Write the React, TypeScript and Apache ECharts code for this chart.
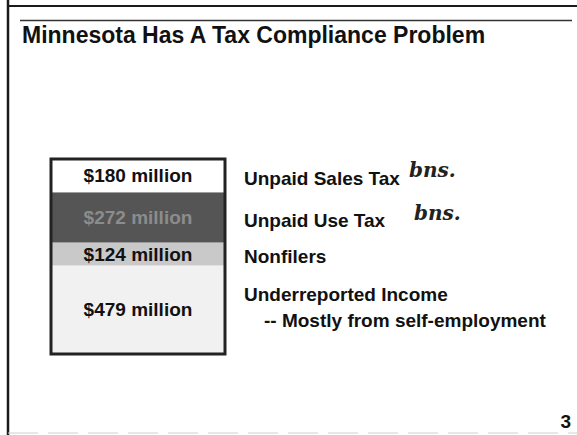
import React, { useEffect, useRef } from "react";
import * as echarts from "echarts";

const title = "Minnesota Has A Tax Compliance Problem";
// stacked from bottom to top
const segmentNames = ["Underreported Income", "Nonfilers", "Unpaid Use Tax", "Unpaid Sales Tax"];
const segmentValues = [479, 124, 272, 180];
const segmentColors = ["#f1f1f1", "#c9c9c9", "#555555", "#ffffff"];
const segmentTextColors = ["#111111", "#111111", "#8c8c8c", "#111111"];
const sideLabels = [
  { text: "Unpaid Sales Tax", x: 244, y: 178 },
  { text: "Unpaid Use Tax", x: 244, y: 220 },
  { text: "Nonfilers", x: 244, y: 256 },
  { text: "Underreported Income", x: 244, y: 294 },
  { text: "-- Mostly from self-employment", x: 264, y: 320 },
];
const notes = [
  { text: "bns.", x: 409, y: 170 },
  { text: "bns.", x: 414, y: 213 },
];
const pageNumber = "3";

export default function App() {
  const ref = useRef<HTMLDivElement>(null);
  useEffect(() => {
    if (!ref.current) return;
    const chart = echarts.init(ref.current, null, { renderer: "svg" });
    const total = segmentValues.reduce((a, b) => a + b, 0);
    const font = "'Liberation Sans', Arial, sans-serif";
    const series = segmentValues.map((v, i) => ({
      type: "bar",
      name: segmentNames[i],
      stack: "total",
      data: [v],
      barWidth: "100%",
      barCategoryGap: 0,
      itemStyle: { color: segmentColors[i] },
      label: {
        show: true,
        position: "inside",
        formatter: (p: any) => `$${p.value} million`,
        color: segmentTextColors[i],
        fontFamily: font,
        fontWeight: "bold",
        fontSize: 19,
      },
    }));
    const graphic: any[] = [
      { type: "line", shape: { x1: 8, y1: 0, x2: 8, y2: 435 }, style: { stroke: "#1a1a1a", lineWidth: 2.5 } },
      { type: "line", shape: { x1: 8, y1: 6, x2: 577, y2: 6 }, style: { stroke: "#1a1a1a", lineWidth: 2 } },
      { type: "line", shape: { x1: 20, y1: 20.5, x2: 572, y2: 20.5 }, style: { stroke: "#333", lineWidth: 1.5 } },
      { type: "line", shape: { x1: 8, y1: 433, x2: 577, y2: 433 }, style: { stroke: "#d0d0d0", lineWidth: 1, lineDash: [30, 10] } },
      {
        type: "text",
        x: 22,
        y: 35,
        style: { text: title, fontFamily: font, fontWeight: "bold", fontSize: 23, fill: "#111", verticalAlign: "middle" },
      },
      ...sideLabels.map((l) => ({
        type: "text",
        x: l.x,
        y: l.y,
        style: { text: l.text, fontFamily: font, fontWeight: "bold", fontSize: 19, fill: "#111", verticalAlign: "middle" },
      })),
      ...notes.map((n) => ({
        type: "text",
        x: n.x,
        y: n.y,
        style: { text: n.text, fontFamily: "'DejaVu Serif', serif", fontStyle: "italic", fontWeight: "bold", fontSize: 20, fill: "#222", verticalAlign: "middle" },
      })),
      {
        type: "text",
        x: 571,
        y: 421,
        style: { text: pageNumber, fontFamily: font, fontWeight: "bold", fontSize: 19, fill: "#111", align: "right", verticalAlign: "middle" },
      },
    ];
    chart.setOption({
      animation: false,
      backgroundColor: "#ffffff",
      grid: { left: 51, right: 352, top: 159, bottom: 81, show: true, borderColor: "#222", borderWidth: 3, z: 10, backgroundColor: "transparent" },
      xAxis: { type: "category", data: ["total"], show: false },
      yAxis: { type: "value", min: 0, max: total, show: false },
      series,
      graphic,
    });
    return () => chart.dispose();
  }, []);
  return <div ref={ref} style={{ position: "fixed", left: 0, top: 0, width: 577, height: 435 }} />;
}
